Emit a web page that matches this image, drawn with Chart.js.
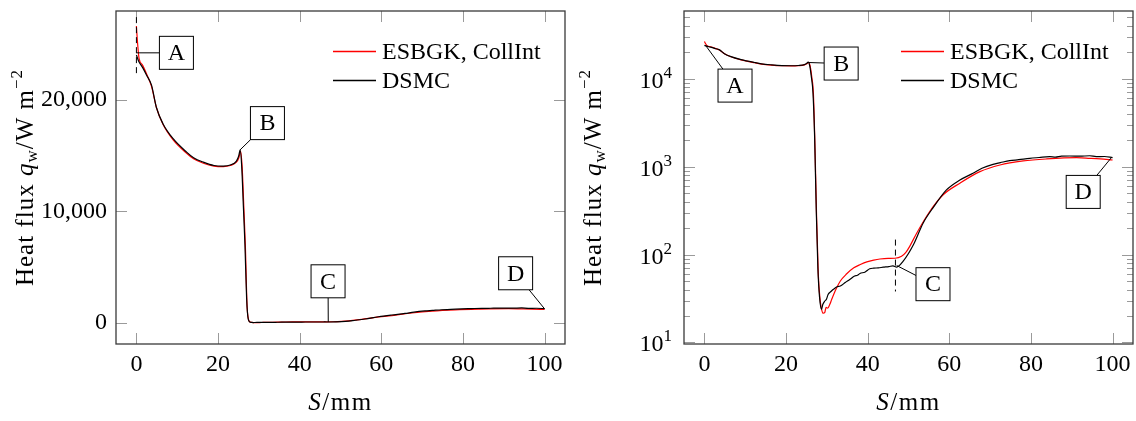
<!DOCTYPE html>
<html>
<head>
<meta charset="utf-8">
<style>
  body { margin: 0; background: #fff; }
  #wrap { position: relative; width: 1136px; height: 421px; }
  canvas { position: absolute; top: 0; }
</style>
</head>
<body>
<div id="wrap">
  <canvas id="linChart" width="568" height="421" style="left:0"></canvas>
  <canvas id="logChart" width="568" height="421" style="left:568px"></canvas>
</div>
<script src="https://cdn.jsdelivr.net/npm/chart.js"></script>
<script>
// wall position S in mm, heat flux q_w in W/m^2
const sEsbgk = [0, 0.3, 0.65, 1.5, 2.5, 3.7, 4.9, 6.5, 9.0, 12.3, 14.0, 16.4, 19.0, 21.3, 23.0, 24.5, 25.1, 25.5,
  25.9, 26.3, 26.7, 27.1, 27.5, 27.9, 28.3, 28.7, 29.1, 29.5, 29.8, 30.2, 30.7, 31.2, 32.2, 33.3, 34.8, 36.6, 38.2,
  39.8, 41.5, 43.0, 45.0, 46.7, 48.3, 49.3, 50.3, 52.0, 55.2, 58.5, 62.6, 67.5, 72.4, 78.1, 83.8, 91.2, 94.4, 97.0, 100]
const qEsbgk = [26600, 25000, 23700, 23100, 22300, 21200, 19300, 17800, 16400, 15200, 14700, 14300, 14050, 14000, 14100, 14400, 14800, 15400,
  14000, 10500, 6800, 1600, 250, 60, 32, 24, 21.5, 22, 25, 24.5, 27, 31, 40, 50, 60, 70.6, 77,
  82.6, 86.5, 89, 90.5, 90.8, 95.5, 105, 124, 175, 309, 479, 649, 877, 1045, 1161, 1223, 1265, 1245, 1225, 1191]

const sDsmc = [0, 0.5, 1.5, 2.5, 3.7, 4.9, 6.5, 9.0, 12.3, 14.0, 16.4, 19.0, 21.3, 23.0, 24.5, 25.1, 25.4,
  25.8, 26.2, 26.6, 27.0, 27.4, 27.8, 28.2, 28.7, 29.0, 29.5, 29.9, 30.3, 31.0, 31.6, 32.5, 33.3, 34.5, 35.6,
  36.8, 37.5, 38.1, 39.3, 40.5, 41.5, 42.6, 43.8, 45.2, 46.2, 47.1, 48.7, 51.2, 53.6, 56.0, 59.3, 62.5, 65.8,
  68.0, 70.7, 72.5, 74.8, 77.0, 79.7, 82.0, 84.6, 86.0, 87.5, 89.5, 92.0, 94.4, 96.0, 98.0, 100]
const qDsmc = [24000, 23500, 22900, 22200, 21300, 19300, 17850, 16500, 15300, 14800, 14400, 14100, 14050, 14150, 14500, 15000, 15500,
  14000, 10500, 6900, 2200, 320, 70, 33, 23.8, 27, 29.6, 31, 35.2, 38, 40.2, 43, 43.8, 48, 52,
  57, 58, 61, 63, 68.9, 70, 70.5, 71.8, 73, 74.5, 72, 84, 129, 229, 340, 544, 700, 841,
  960, 1063, 1110, 1170, 1200, 1245, 1270, 1297, 1285, 1320, 1321, 1315, 1330, 1300, 1305, 1265]

const xTicks = [0, 20, 40, 60, 80, 100]
const yTicksLin = [0, 10000, 20000]
const yTicksLog = [10, 100, 1000, 10000]

// annotation pins: letter, point on the curve, centre of the label box
const pinLetters = ['A', 'B', 'C', 'D']
const pinPointSLin = [0, 25.4, 47, 100]
const pinPointQLin = [24200, 15500, 70, 1250]
const pinBoxSLin = [9.8, 32.1, 46.95, 92.9]
const pinBoxQLin = [24200, 17900, 3720, 4440]
const pinPointSLog = [0.3, 25.5, 47.1, 99.7]
const pinPointQLog = [23900, 15300, 75, 1265]
const pinBoxSLog = [7.5, 33.5, 56, 92.8]
const pinBoxQLog = [8360, 14900, 46, 516]
// dashed markers
const dashSLin = 0, dashQLin = [22300, 27400]
const dashSLog = 46.8, dashQLog = [38, 148]

const FONT = "'Liberation Serif', 'Times New Roman', serif"
const tickFont = { family: FONT, size: 24 }

function points(s, q) {
  return s.map((v, i) => ({ x: v, y: q[i] }))
}

function drawParts(ctx, parts, x0, y0, center) {
  let w = 0
  parts.forEach(p => { ctx.font = p.font; w += ctx.measureText(p.t).width })
  let x = center ? x0 - w / 2 : x0 - w
  parts.forEach(p => {
    ctx.font = p.font
    ctx.fillText(p.t, x, y0 + (p.dy || 0))
    x += ctx.measureText(p.t).width
  })
}

function noPad(s) {
  s.paddingTop = 0; s.paddingBottom = 0; s.paddingLeft = 0; s.paddingRight = 0
}

const decor = {
  id: 'decor',
  afterDatasetsDraw(chart, args, o) {
    const { ctx, chartArea: a, scales: { x, y } } = chart
    ctx.save()

    // inside tick marks on all four sides
    ctx.strokeStyle = '#9a9a9a'
    ctx.lineWidth = 1
    ctx.beginPath()
    xTicks.forEach(v => {
      const px = Math.round(x.getPixelForValue(v)) + 0.5
      ctx.moveTo(px, a.bottom); ctx.lineTo(px, a.bottom - 11)
      ctx.moveTo(px, a.top); ctx.lineTo(px, a.top + 11)
    })
    o.yMajor.forEach(v => {
      const py = Math.round(y.getPixelForValue(v)) + 0.5
      ctx.moveTo(a.left, py); ctx.lineTo(a.left + 11, py)
      ctx.moveTo(a.right, py); ctx.lineTo(a.right - 11, py)
    })
    o.yMinor.forEach(v => {
      if (v < y.min || v > y.max) return
      const py = Math.round(y.getPixelForValue(v)) + 0.5
      ctx.moveTo(a.left, py); ctx.lineTo(a.left + 6, py)
      ctx.moveTo(a.right, py); ctx.lineTo(a.right - 6, py)
    })
    ctx.stroke()

    // frame
    ctx.strokeStyle = '#3a3a3a'
    ctx.lineWidth = 1.3
    ctx.strokeRect(a.left, a.top, a.width, a.height)

    // dashed marker
    ctx.strokeStyle = '#000'
    ctx.lineWidth = 1
    ctx.setLineDash([6, 4])
    ctx.beginPath()
    const dx = x.getPixelForValue(o.dashS)
    ctx.moveTo(dx, y.getPixelForValue(o.dashQ[1]))
    ctx.lineTo(dx, y.getPixelForValue(o.dashQ[0]))
    ctx.stroke()
    ctx.setLineDash([])

    // pins
    const hw = 17, hh = 16.5
    pinLetters.forEach((letter, i) => {
      const px = x.getPixelForValue(o.pointS[i]), py = y.getPixelForValue(o.pointQ[i])
      const bx = x.getPixelForValue(o.boxS[i]), by = y.getPixelForValue(o.boxQ[i])
      const ddx = bx - px, ddy = by - py
      const t = 1 - Math.min(hw / Math.abs(ddx), hh / Math.abs(ddy))
      ctx.strokeStyle = '#000'
      ctx.lineWidth = 1
      ctx.beginPath()
      ctx.moveTo(px, py)
      ctx.lineTo(px + t * ddx, py + t * ddy)
      ctx.stroke()
      ctx.fillStyle = '#fff'
      ctx.fillRect(bx - hw, by - hh, 2 * hw, 2 * hh)
      ctx.strokeRect(bx - hw, by - hh, 2 * hw, 2 * hh)
      ctx.fillStyle = '#000'
      ctx.font = '24px ' + FONT
      ctx.textAlign = 'center'
      ctx.textBaseline = 'middle'
      ctx.fillText(letter, bx, by + 1)
    })

    // legend
    ctx.textAlign = 'left'
    ctx.textBaseline = 'alphabetic'
    ctx.font = '24px ' + FONT
    const lx = a.right - 232
    const rows = [['ESBGK, CollInt', 'rgb(255,0,0)', 51], ['DSMC', 'rgb(0,0,0)', 80]]
    rows.forEach(r => {
      ctx.beginPath()
      ctx.strokeStyle = r[1]
      ctx.lineWidth = 1.4
      ctx.moveTo(lx, r[2] + 0.5)
      ctx.lineTo(lx + 43, r[2] + 0.5)
      ctx.stroke()
      ctx.fillStyle = '#000'
      ctx.fillText(r[0], lx + 49, r[2] + 8)
    })

    // log tick labels 10^k
    if (o.logLabels) {
      yTicksLog.forEach(v => {
        const py = y.getPixelForValue(v)
        drawParts(ctx, [
          { t: '10', font: '24px ' + FONT },
          { t: String(Math.round(Math.log10(v))), font: '17px ' + FONT, dy: -10 }
        ], a.left - 12, py + 9, false)
      })
    }

    // axis titles
    ctx.fillStyle = '#000'
    ctx.letterSpacing = '1.5px'
    drawParts(ctx, [
      { t: 'S', font: 'italic 25px ' + FONT },
      { t: '/mm', font: '25px ' + FONT }
    ], (a.left + a.right) / 2, 410, true)

    ctx.letterSpacing = '1px'
    ctx.translate(33, (a.top + a.bottom) / 2)
    ctx.rotate(-Math.PI / 2)
    drawParts(ctx, [
      { t: 'Heat flux ', font: '25px ' + FONT },
      { t: 'q', font: 'italic 25px ' + FONT },
      { t: 'w', font: '17px ' + FONT, dy: 4 },
      { t: '/W m', font: '25px ' + FONT },
      { t: '\u22122', font: '17px ' + FONT, dy: -11 }
    ], 0, 0, true)

    ctx.restore()
  }
}

function datasets() {
  return [
    { label: 'ESBGK, CollInt', data: points(sEsbgk, qEsbgk), borderColor: '#ff0000', order: 1 },
    { label: 'DSMC', data: points(sDsmc, qDsmc), borderColor: '#000000', order: 0 }
  ]
}

const xScale = {
  type: 'linear', min: -5, max: 105,
  grid: { display: false, drawTicks: false },
  border: { display: false },
  afterBuildTicks: s => { s.ticks = xTicks.map(v => ({ value: v })) },
  afterFit: s => { s.height = 77; noPad(s) },
  ticks: { color: '#000', font: tickFont, padding: 6, maxRotation: 0, autoSkip: false }
}

const common = {
  responsive: false,
  animation: false,
  layout: { padding: { top: 11, right: 3, left: 0, bottom: 0 } },
  elements: {
    point: { radius: 0 },
    line: { borderWidth: 1.2, cubicInterpolationMode: 'monotone' }
  },
  events: []
}

const minorLog = []
;[10, 100, 1000, 10000].forEach(d => { for (let k = 2; k <= 9; k++) minorLog.push(k * d) })

new Chart(document.getElementById('linChart'), {
  type: 'line',
  data: { datasets: datasets() },
  options: Object.assign({}, common, {
    scales: {
      x: xScale,
      y: {
        type: 'linear', min: -1900, max: 27950,
        grid: { display: false, drawTicks: false },
        border: { display: false },
        afterBuildTicks: s => { s.ticks = yTicksLin.map(v => ({ value: v })) },
        afterFit: s => { s.width = 116; noPad(s) },
        ticks: { color: '#000', font: tickFont, padding: 9, callback: v => v.toLocaleString('en-US') }
      }
    },
    plugins: {
      legend: { display: false },
      tooltip: { enabled: false },
      decor: {
        yMajor: yTicksLin, yMinor: [], logLabels: false,
        pointS: pinPointSLin, pointQ: pinPointQLin, boxS: pinBoxSLin, boxQ: pinBoxQLin,
        dashS: dashSLin, dashQ: dashQLin
      }
    }
  }),
  plugins: [decor]
})

new Chart(document.getElementById('logChart'), {
  type: 'line',
  data: { datasets: datasets() },
  options: Object.assign({}, common, {
    scales: {
      x: xScale,
      y: {
        type: 'logarithmic', min: 9.6, max: 59000,
        grid: { display: false, drawTicks: false },
        border: { display: false },
        afterFit: s => { s.width = 116; noPad(s) },
        ticks: { display: false }
      }
    },
    plugins: {
      legend: { display: false },
      tooltip: { enabled: false },
      decor: {
        yMajor: yTicksLog, yMinor: minorLog, logLabels: true,
        pointS: pinPointSLog, pointQ: pinPointQLog, boxS: pinBoxSLog, boxQ: pinBoxQLog,
        dashS: dashSLog, dashQ: dashQLog
      }
    }
  }),
  plugins: [decor]
})
</script>
</body>
</html>
